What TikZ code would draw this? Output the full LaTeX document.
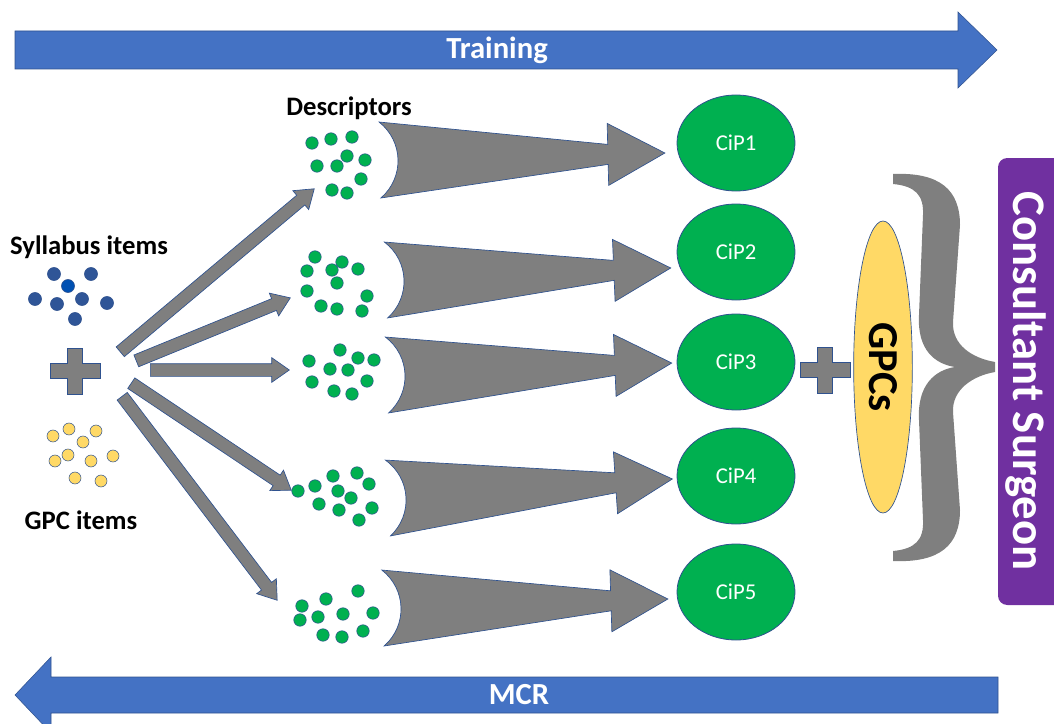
\documentclass[tikz,border=0pt]{standalone}
\usepackage{fontspec}
\setmainfont{Carlito}
\usetikzlibrary{positioning}
\usetikzlibrary{calc}
\usetikzlibrary{shapes.geometric,shapes.arrows}

\definecolor{bandblue}{HTML}{4472C4}
\definecolor{linkgray}{HTML}{7F7F7F}
\definecolor{edgeblue}{HTML}{2F528F}
\definecolor{cipgreen}{HTML}{00B050}
\definecolor{gpcyellow}{HTML}{FFD966}
\definecolor{sylblue}{HTML}{2F5597}
\definecolor{surgpurple}{HTML}{7030A0}

\tikzset{band/.style={ % Sets the properties for the two long arrows
fill=bandblue,
draw=edgeblue, line width=0.4pt},
bandtext/.style={text=white, font=\fontsize{23}{23}\selectfont\bfseries},
caption/.style={font=\fontsize{20}{20}\selectfont\bfseries},
linkshape/.style={fill=linkgray, draw=edgeblue, line width=0.5pt},
smallarrow/.style={ % Arrows from the plus to the descriptors
single arrow, linkshape,
inner sep=4.5pt,
single arrow head extend=4.5pt,
single arrow tip angle=70},
cip/.style={ellipse, fill=cipgreen, draw=edgeblue, line width=0.6pt,
minimum width=88.5pt, minimum height=72pt, inner sep=0pt,
text=white, font=\fontsize{17}{17}\selectfont},
gpcell/.style={ellipse, fill=gpcyellow, draw=edgeblue, line width=0.5pt,
minimum width=219pt, minimum height=44pt, inner sep=0pt,
font=\fontsize{32}{32}\selectfont\bfseries},
sdot/.style={fill=sylblue, draw=edgeblue, line width=0.4pt},
ydot/.style={fill=gpcyellow, draw=edgeblue, line width=0.4pt},
gdot/.style={fill=cipgreen, draw=edgeblue, line width=0.4pt},
pics/plussign/.style={code={
\draw[linkshape] (-25,-7.5) -- (-7.5,-7.5) -- (-7.5,-23) -- (7.5,-23) -- (7.5,-7.5) -- (25,-7.5)
-- (25,7.5) -- (7.5,7.5) -- (7.5,23) -- (-7.5,23) -- (-7.5,7.5) -- (-25,7.5) -- cycle;}},
pics/bigarrow/.style={code={ % Swallow tail arrow, 285 long
\draw[linkshape] (0,-38) .. controls (24,-18) and (24,18) .. (0,38)
-- (228,10) -- (228,31) -- (285,0) -- (228,-31) -- (228,-10) -- cycle;}}}

\begin{document}
\begin{tikzpicture}[x=0.75pt,y=-0.75pt]
\useasboundingbox (0,0) rectangle (1054,724);
\clip (0,0) rectangle (1054,724);

% Training and MCR
\draw[band] (15,31) -- (958,31) -- (958,12) -- (997,50) -- (958,88) -- (958,69) -- (15,69) -- cycle;
\node[bandtext] (training) at (497,50) {Training};
\draw[band] (998,677) -- (51,677) -- (51,657) -- (15,695) -- (51,733) -- (51,713) -- (998,713) -- cycle;
\node[bandtext] (mcr) at (519,695) {MCR};

% Consultant surgeon
\fill[surgpurple, rounded corners=7pt] (998,158) rectangle (1090,605);
\node[bandtext, font=\fontsize{35}{35}\selectfont\bfseries, rotate=-90] (surgeon) at (1026,381) {Consultant Surgeon};
\fill[linkgray] (893,174) .. controls (940,172) and (960,190) .. (960,225) -- (953,322)
.. controls (952,345) and (972,358) .. (995,362) -- (995,372)
.. controls (972,376) and (952,390) .. (953,412) -- (960,510)
.. controls (960,545) and (940,563) .. (893,561) -- (893,551)
.. controls (915,549) and (924,540) .. (923,520) -- (919,420)
.. controls (917,385) and (935,370) .. (955,367)
.. controls (935,364) and (917,350) .. (919,315) -- (923,215)
.. controls (924,195) and (915,186) .. (893,184) -- cycle;

% Items
\node[caption] (syllabus) at (89,247) {Syllabus items};
\node[caption] (gpcitems) at (81,520) {GPC items};
\node[caption] (descriptors) at (349,108) {Descriptors};
\foreach \p in {(54,274),(91,274),(35,299),(57,304),(82,299),(107,303),(75,319)}
\filldraw[sdot] \p circle (4.9pt);
\filldraw[fill=blue!55!cyan!70!black, draw=edgeblue, line width=0.4pt] (68,286) circle (4.9pt);
\foreach \p in {(53,436),(69,429),(96,431),(83,442),(68,455),(55,461),(91,461),(113,456),(75,478),(101,481)}
\filldraw[ydot] \p circle (4.5pt);
\pic at (75,371) {plussign};

% Descriptors
\foreach \p in {(312,143),(331,139),(352,137),(347,156),(365,160),(317,166),(337,166),(361,179),(332,190),(347,193),
(315,257),(342,262),(307,271),(332,270),(358,269),(337,283),(307,291),(367,296),(321,306),(337,309),(362,311),
(340,350),(358,358),(374,360),(309,361),(330,369),(348,370),(312,382),(367,381),(334,391),(352,394),
(333,476),(357,473),(369,484),(315,486),(298,491),(338,491),(351,498),(319,504),(339,510),(372,508),(359,520),
(358,591),(326,599),(302,606),(373,613),(343,614),(318,617),(300,620),(323,635),(342,637),(363,631)}
\filldraw[gdot] \p circle (4.7pt);

\coordinate (foot1) at (120,352);
\coordinate (foot2) at (136,361);
\coordinate (foot3) at (150,370);
\coordinate (foot4) at (131,383);
\coordinate (foot5) at (122,396);
\coordinate (head1) at (314,189);
\coordinate (head2) at (290,298);
\coordinate (head3) at (289,370);
\coordinate (head4) at (291,490);
\coordinate (head5) at (277,600);
\foreach \i in {1,...,5}
\path let \p1=($(head\i)-(foot\i)$), \n1={atan2(\y1,\x1)}, \n2={veclen(\x1,\y1)} in
node[smallarrow, rotate=\n1, minimum height=\n2, anchor=tail] (link\i) at (foot\i) {};

% CiPs
\node[cip] (cip1) at (736,143) {CiP1};
\node[cip] (cip2) at (736,252) {CiP2};
\node[cip] (cip3) at (736,362) {CiP3};
\node[cip] (cip4) at (736,476) {CiP4};
\node[cip] (cip5) at (736,592) {CiP5};

\coordinate (tail1) at (380,160);
\coordinate (tail2) at (386,280);
\coordinate (tail3) at (387,375);
\coordinate (tail4) at (388,498);
\coordinate (tail5) at (383,608);
\coordinate (tip1) at (665,153);
\coordinate (tip2) at (670,268);
\coordinate (tip3) at (672,363);
\coordinate (tip4) at (672,479);
\coordinate (tip5) at (668,599);
\foreach \i in {1,...,5}
\path let \p1=($(tip\i)-(tail\i)$), \n1={atan2(\y1,\x1)} in
pic[rotate=\n1] at (tail\i) {bigarrow};

% GPCs
\pic at (825,370) {plussign};
\node[gpcell, rotate=-90] (gpcs) at (883,367) {GPCs};
\end{tikzpicture}
\end{document}
